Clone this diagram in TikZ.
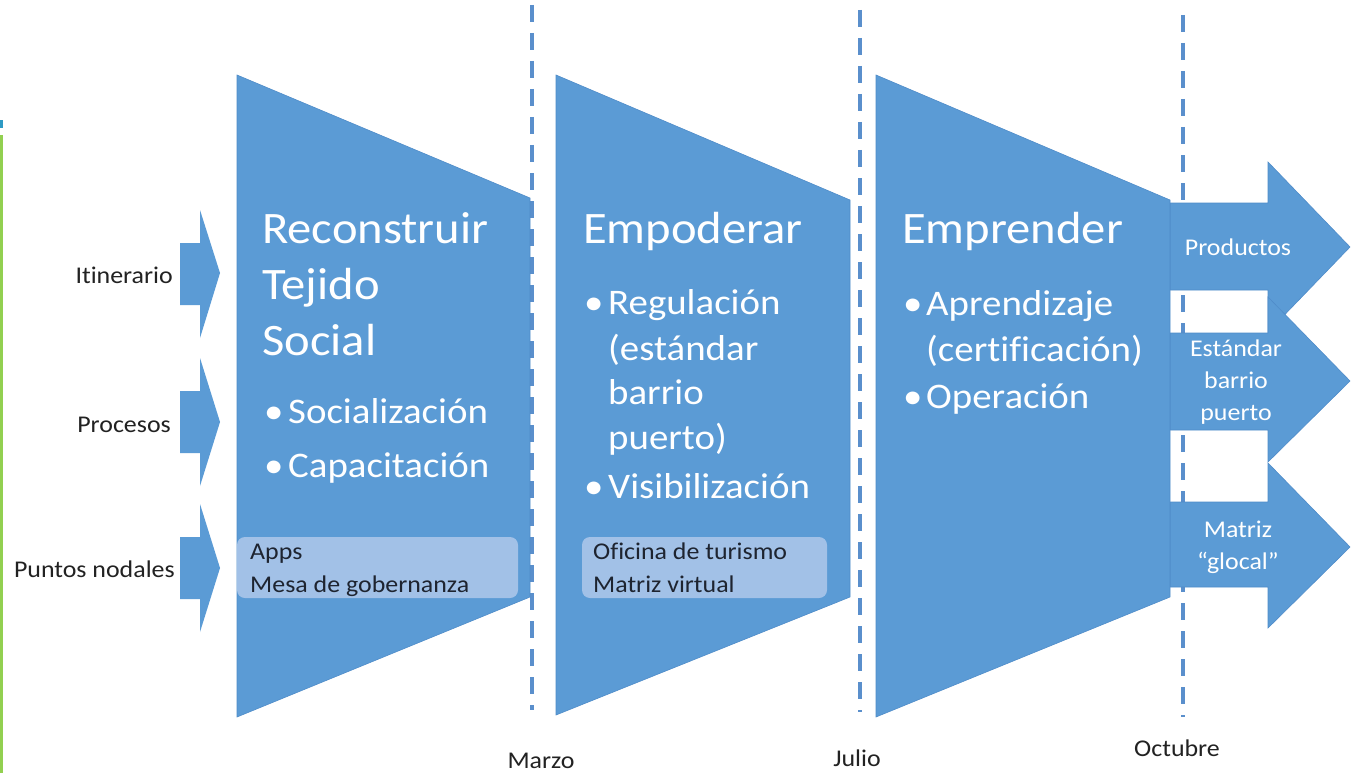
\documentclass[tikz,border=0pt]{standalone}
\usepackage{fontspec}
\setmainfont{Carlito}[Ligatures={NoCommon}, FakeStretch=1.08]
\definecolor{mainblue}{HTML}{5B9BD5}
\definecolor{edgeblue}{HTML}{4F8CC9}
\definecolor{dashblue}{HTML}{5A8FCC}
\definecolor{lightbox}{HTML}{AAC6EA}
\definecolor{boxtext}{HTML}{1E2430}
\definecolor{greenline}{HTML}{92D050}
\definecolor{tealmark}{HTML}{2E9AC4}
\definecolor{labeltext}{HTML}{222222}
\tikzset{
  blueshape/.style={fill=mainblue, draw=edgeblue, line width=0.6pt, line join=miter},
  timeline/.style={draw=dashblue, line width=3.5pt, dash pattern=on 17pt off 11pt},
  ttl/.style={text=white, font=\fontsize{45}{52}\selectfont, anchor=base west, inner sep=0pt},
  bul/.style={text=white, font=\fontsize{36}{44}\selectfont, anchor=base west, inner sep=0pt},
  lbl/.style={text=labeltext, font=\fontsize{24}{29}\selectfont, inner sep=0pt},
  boxtxt/.style={text=boxtext, font=\fontsize{24}{29}\selectfont, anchor=base west, inner sep=0pt},
  arrtxt/.style={text=white, font=\fontsize{24}{32}\selectfont, align=center, inner sep=0pt},
  lbox/.style={fill=lightbox, fill opacity=0.9, rounded corners=8pt},
}
\begin{document}
\begin{tikzpicture}[x=1pt,y=-1pt]
\useasboundingbox (0,0) rectangle (1357,773);
\fill[white] (0,0) rectangle (1357,773);

% left margin marks
\fill[greenline] (0,135) rectangle (3,773);
\fill[tealmark] (0,120) rectangle (3,128);

% timeline dashed lines (behind shapes)
\draw[timeline] (532,5) -- (532,710);
\draw[timeline] (860,10) -- (860,712);
\draw[timeline] (1183,15) -- (1183,717);

% small left arrows
\fill[mainblue] (180,243) -- (200,243) -- (200,210) -- (220,273) -- (200,338) -- (200,305) -- (180,305) -- cycle;
\fill[mainblue] (180,391) -- (200,391) -- (200,358) -- (220,422) -- (200,486) -- (200,453) -- (180,453) -- cycle;
\fill[mainblue] (180,537) -- (200,537) -- (200,504) -- (220,568) -- (200,632) -- (200,599) -- (180,599) -- cycle;

% trapezoids
\path[blueshape] (237,75) -- (530,198) -- (530,597) -- (237,717) -- cycle;
\path[blueshape] (556,75) -- (850,200) -- (850,597) -- (556,715) -- cycle;

% right arrows
\path[blueshape] (1170,502) -- (1268,502) -- (1268,463) -- (1350,547) -- (1268,628) -- (1268,587) -- (1170,587) -- cycle;
\path[blueshape] (1170,203) -- (1268,203) -- (1268,162) -- (1350,247) -- (1268,332) -- (1268,290) -- (1170,290) -- cycle;
\path[blueshape] (1170,333) -- (1268,333) -- (1268,297) -- (1350,381) -- (1268,462) -- (1268,430) -- (1170,430) -- cycle;
\path[blueshape] (876,75) -- (1170,200) -- (1170,597) -- (876,717) -- cycle;

% light boxes
\path[lbox] (237,537) rectangle (518,598);
\path[lbox] (582,537) rectangle (827,598);

% left labels
\node[lbl, anchor=base east] (itin) at (173,283) {Itinerario};
\node[lbl, anchor=base east] (proc) at (171,432) {Procesos};
\node[lbl, anchor=base east] (pnod) at (175,577) {Puntos nodales};

% phase 1
\node[ttl] (t1a) at (262,243) {Reconstruir};
\node[ttl] (t1b) at (262,299) {Tejido};
\node[ttl] (t1c) at (262,355) {Social};
\node[bul] (b1a) at (264,423) {•};
\node[bul] (s1a) at (288,423) {Socialización};
\node[bul] (b1b) at (264,477) {•};
\node[bul] (s1b) at (288,477) {Capacitación};
\node[boxtxt] (x1a) at (250,559) {Apps};
\node[boxtxt] (x1b) at (250,592) {Mesa de gobernanza};

% phase 2
\node[ttl] (t2a) at (583,243) {Empoderar};
\node[bul] (b2a) at (584,314) {•};
\node[bul] (s2a) at (608,314) {Regulación};
\node[bul] (s2b) at (608,360) {(estándar};
\node[bul] (s2c) at (608,404) {barrio};
\node[bul] (s2d) at (608,449) {puerto)};
\node[bul] (b2b) at (584,498) {•};
\node[bul] (s2e) at (608,498) {Visibilización};
\node[boxtxt] (x2a) at (593,559) {Oficina de turismo};
\node[boxtxt] (x2b) at (593,592) {Matriz virtual};

% phase 3
\node[ttl] (t3a) at (902,243) {Emprender};
\node[bul] (b3a) at (903,315) {•};
\node[bul] (s3a) at (926,315) {Aprendizaje};
\node[bul] (s3b) at (926,361) {(certificación)};
\node[bul] (b3b) at (903,408) {•};
\node[bul] (s3c) at (926,408) {Operación};

% right arrow labels
\node[arrtxt] (r1) at (1238,247) {Productos};
\node[arrtxt] (r2) at (1236,382) {Estándar\\barrio\\puerto};
\node[arrtxt] (r3) at (1238,547) {Matriz\\“glocal”};

% months
\node[lbl, anchor=base] (mar) at (541,768) {Marzo};
\node[lbl, anchor=base] (jul) at (857,766) {Julio};
\node[lbl, anchor=base] (oct) at (1177,756) {Octubre};
\end{tikzpicture}
\end{document}
